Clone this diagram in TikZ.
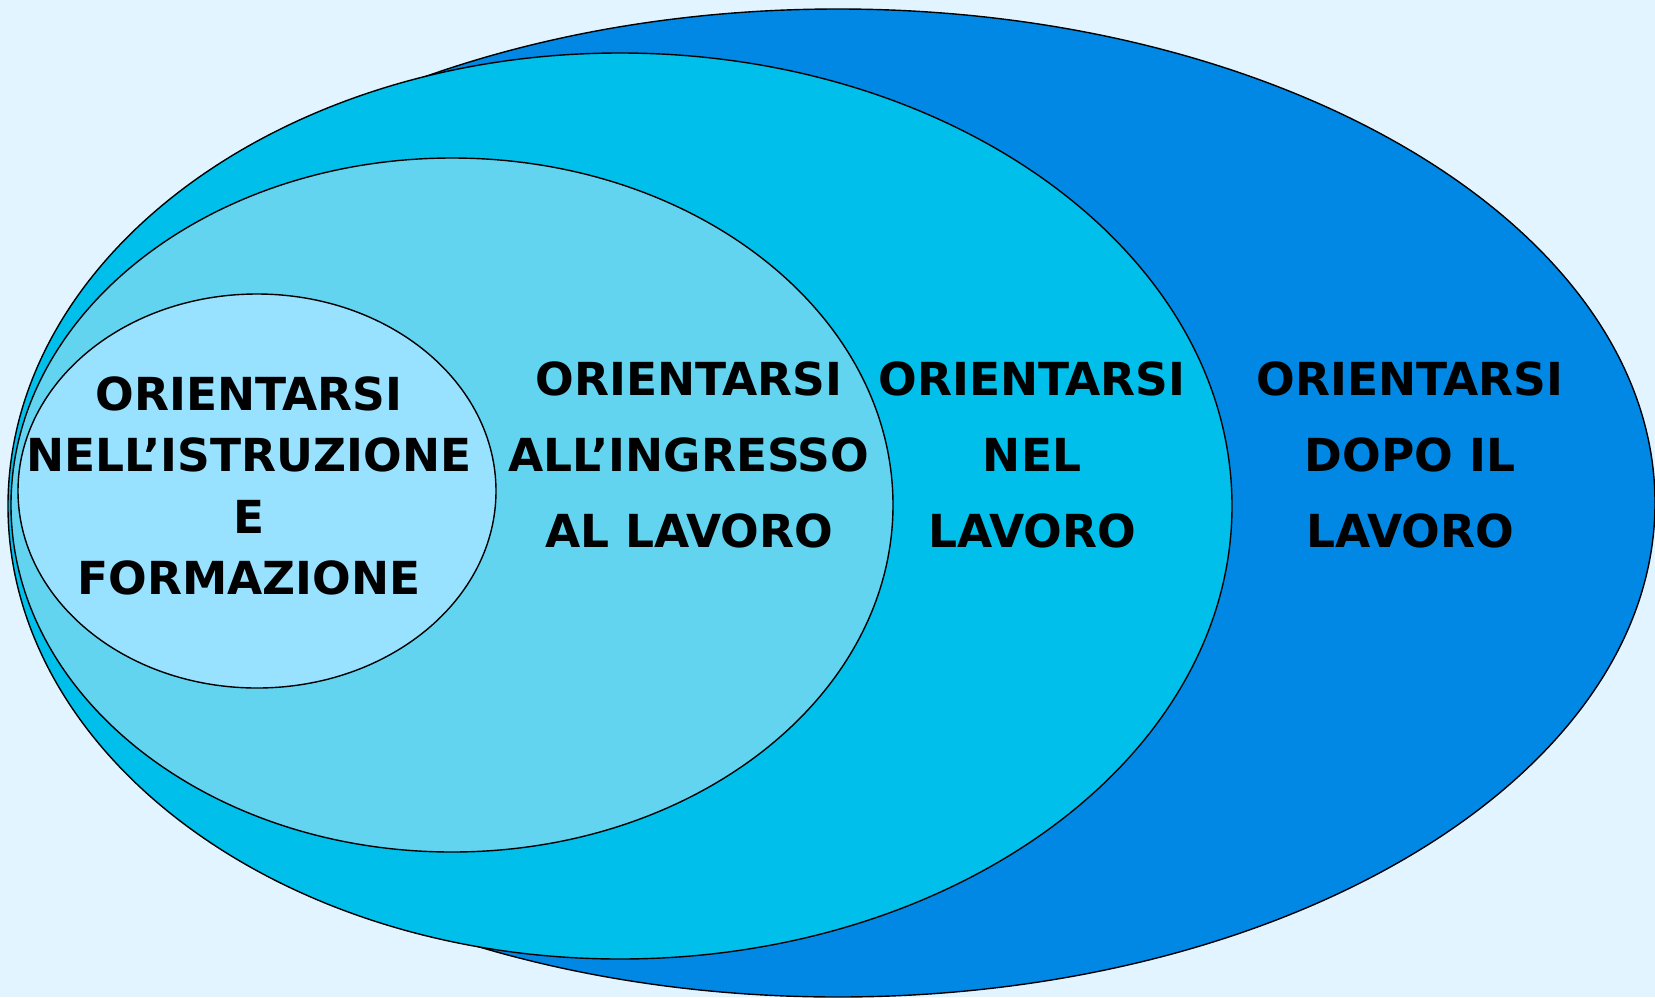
\documentclass[tikz,border=0pt]{standalone}
\usepackage{fontspec}
\setmainfont{DejaVu Sans}
\usepackage{tikz}
\usetikzlibrary{shapes.geometric}

\definecolor{sfondo}{HTML}{E2F4FF}
\definecolor{bludopo}{HTML}{0088E4}
\definecolor{blunel}{HTML}{00BFEA}
\definecolor{bluingresso}{HTML}{62D4F0}
\definecolor{bluistruzione}{HTML}{99E2FF}

\begin{document}
\begin{tikzpicture}[x=1pt,y=-1pt,line width=1.4pt]
  \tikzstyle{ring}=[ellipse,draw=black,inner sep=0pt]
  \tikzstyle{testo}=[align=center,font=\fontsize{45.5}{76}\selectfont\bfseries,text=black]

  \fill[sfondo] (0,0) rectangle (1655,997);
  \useasboundingbox (0,0) rectangle (1655,997);

  \node[ring,fill=bludopo,minimum width=1634pt,minimum height=988pt]      (dopo)       at (838,503) {};
  \node[ring,fill=blunel,minimum width=1224pt,minimum height=906pt]       (nel)        at (620,506) {};
  \node[ring,fill=bluingresso,minimum width=882pt,minimum height=694pt]   (ingresso)   at (452,505) {};
  \node[ring,fill=bluistruzione,minimum width=478pt,minimum height=394pt] (istruzione) at (257,491) {};

  \node[testo,font=\fontsize{45.5}{61.5}\selectfont\bfseries] (tistruzione) at (249,486)
        {ORIENTARSI\\NELL’ISTRUZIONE\\E\\FORMAZIONE};
  \node[testo] (tingresso) at (689,455) {ORIENTARSI\\ALL’INGRESSO\\AL LAVORO};
  \node[testo] (tnel)      at (1032,455) {ORIENTARSI\\NEL\\LAVORO};
  \node[testo] (tdopo)     at (1410,455) {ORIENTARSI\\DOPO IL\\LAVORO};
\end{tikzpicture}
\end{document}
